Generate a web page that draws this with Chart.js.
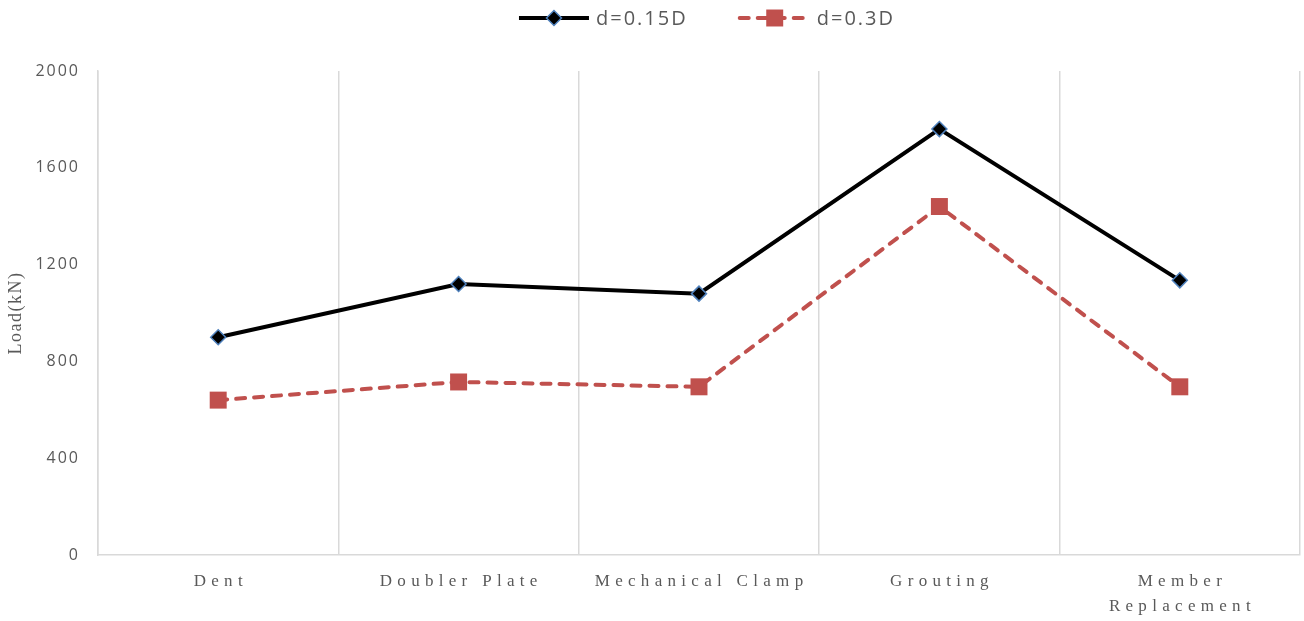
<!DOCTYPE html>
<html>
<head>
<meta charset="utf-8">
<script src="https://cdn.jsdelivr.net/npm/chart.js@4/dist/chart.umd.min.js"></script>
<style>
html,body{margin:0;padding:0;background:#ffffff;}
canvas{display:block;}
</style>
</head>
<body>
<canvas id="c" width="1304" height="621"></canvas>
<script>
// ---- data ----
const categories = ['Dent', 'Doubler Plate', 'Mechanical Clamp', 'Grouting', ['Member', 'Replacement']];
const seriesNames = ['d=0.15D', 'd=0.3D'];
const loadD015 = [900, 1120, 1080, 1760, 1135];
const loadD03 = [640, 715, 695, 1440, 695];
const yMin = 0;
const yMax = 2000;
const yStep = 400;
const yTitle = 'Load(kN)';

const TEXT = '#595959';
const GRID = '#d9d9d9';

function wrapText(obj, method, spacing, dx, dy) {
  const orig = obj[method];
  obj[method] = function () {
    const c = this.ctx;
    c.save();
    c.letterSpacing = spacing;
    c.translate(dx, dy);
    orig.apply(this, arguments);
    c.restore();
  };
}

const spacingPlugin = {
  id: 'spacing',
  afterLayout(chart) {
    const xs = chart.scales.x, ys = chart.scales.y;
    if (xs && !xs._wrapped) { wrapText(xs, 'drawLabels', '5.3px', 2.6, 0); xs._wrapped = true; }
    if (ys && !ys._wrapped) {
      wrapText(ys, 'drawLabels', '2px', 2, 0);
      wrapText(ys, 'drawTitle', '1.5px', 0, 0);
      ys._wrapped = true;
    }
  }
};

const legendPlugin = {
  id: 'lineLegend',
  afterDraw(chart) {
    const ctx = chart.ctx;
    const ca = chart.chartArea;
    ctx.save();
    ctx.font = '20px "Open Sans"';
    ctx.letterSpacing = '2px';
    const sampleW = 70, gapText = 7, gapItem = 54;
    const items = chart.data.datasets.map(ds => ({ ds, w: sampleW + gapText + ctx.measureText(ds.label).width - 2 }));
    const total = items.reduce((a, b) => a + b.w, 0) + gapItem * (items.length - 1);
    let x = (ca.left + ca.right) / 2 + 7 - total / 2;
    const y = 18;
    items.forEach(it => {
      const ds = it.ds;
      ctx.beginPath();
      ctx.setLineDash(ds.borderDash || []);
      ctx.lineCap = ds.borderCapStyle || 'butt';
      ctx.lineWidth = ds.borderWidth;
      ctx.strokeStyle = ds.borderColor;
      ctx.moveTo(x, y);
      ctx.lineTo(x + sampleW, y);
      ctx.stroke();
      ctx.setLineDash([]);
      ctx.fillStyle = ds.pointBackgroundColor;
      ctx.strokeStyle = ds.pointBorderColor;
      ctx.lineWidth = ds.pointBorderWidth;
      Chart.helpers.drawPoint(ctx, {
        pointStyle: ds.pointStyle, radius: ds.pointRadius, rotation: 0, borderWidth: ds.pointBorderWidth
      }, x + sampleW / 2, y);
      ctx.fillStyle = TEXT;
      ctx.textBaseline = 'middle';
      ctx.textAlign = 'left';
      ctx.fillText(ds.label, x + sampleW + gapText, y + 1);
      x += it.w + gapItem;
    });
    ctx.restore();
  }
};

new Chart(document.getElementById('c'), {
  type: 'line',
  data: {
    labels: categories,
    datasets: [
      {
        label: seriesNames[0],
        data: loadD015,
        borderColor: '#000000',
        borderWidth: 4,
        tension: 0,
        pointStyle: 'rectRot',
        pointRadius: 7.5,
        pointHoverRadius: 7.5,
        pointBackgroundColor: '#000000',
        pointBorderColor: '#4F81BD',
        pointBorderWidth: 1.5
      },
      {
        label: seriesNames[1],
        data: loadD03,
        borderColor: '#C0504D',
        borderWidth: 4,
        borderDash: [9, 9],
        borderCapStyle: 'round',
        tension: 0,
        pointStyle: 'rect',
        pointRadius: 12,
        pointHoverRadius: 12,
        pointBackgroundColor: '#C0504D',
        pointBorderColor: '#C0504D',
        pointBorderWidth: 0
      }
    ]
  },
  options: {
    responsive: false,
    animation: false,
    devicePixelRatio: 1,
    layout: { autoPadding: false, padding: { top: 71, left: 0, right: 4, bottom: 0 } },
    plugins: {
      legend: { display: false },
      tooltip: { enabled: false }
    },
    scales: {
      x: {
        type: 'category',
        offset: true,
        afterFit: s => { s.height = 66; s.paddingLeft = 0; s.paddingRight = 0; },
        grid: { display: true, offset: true, color: GRID, lineWidth: 1.5, drawTicks: false },
        border: { display: true, color: GRID, width: 1.5 },
        ticks: {
          color: TEXT,
          padding: 14,
          maxRotation: 0,
          autoSkip: false,
          font: { family: '"Liberation Serif"', size: 17, lineHeight: 1.47 }
        }
      },
      y: {
        min: yMin,
        max: yMax,
        afterFit: s => { s.width = 98; },
        grid: { display: true, color: 'rgba(0,0,0,0)', drawTicks: false },
        border: { display: true, color: GRID, width: 1.5 },
        ticks: {
          stepSize: yStep,
          color: TEXT,
          padding: 20,
          font: { family: '"Open Sans"', size: 16 },
          callback: v => String(v)
        },
        title: {
          display: true,
          text: yTitle,
          color: TEXT,
          padding: { top: 5, bottom: 0 },
          font: { family: '"Liberation Serif"', size: 18 }
        }
      }
    }
  },
  plugins: [spacingPlugin, legendPlugin]
});
</script>
</body>
</html>
